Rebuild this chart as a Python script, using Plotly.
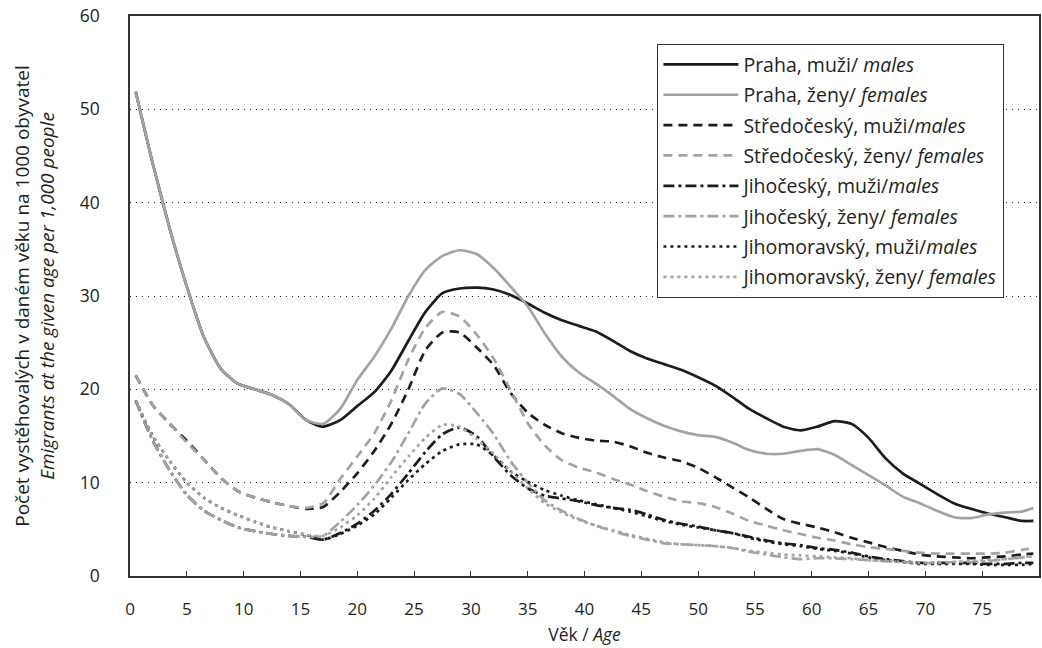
import plotly.graph_objects as go

ages = [0.5, 2, 3.5, 5, 6.5, 8, 9.5, 11, 12.5, 14, 15.5, 17, 18.5, 20, 21.5, 23, 24.5, 26,
        27.5, 29, 30.5, 32, 33.5, 35, 36.5, 38, 39.5, 41, 42.5, 44, 45.5, 47, 48.5, 50,
        51.5, 53, 54.5, 56, 57.5, 59, 60.5, 62, 63.5, 65, 66.5, 68, 69.5, 71, 72.5, 74,
        75.5, 77, 78.5, 79.5]

praha_m = [51.9, 44.2, 37.2, 31.0, 25.6, 22.2, 20.6, 20.0, 19.4, 18.4, 16.7, 16.0, 16.7, 18.2,
           19.7, 22.0, 25.2, 28.3, 30.3, 30.8, 30.9, 30.7, 30.1, 29.2, 28.2, 27.4, 26.8, 26.2,
           25.2, 24.1, 23.3, 22.7, 22.1, 21.3, 20.4, 19.2, 17.9, 16.9, 16.0, 15.6, 16.0, 16.6,
           16.3, 14.8, 12.6, 11.0, 9.9, 8.8, 7.8, 7.2, 6.7, 6.3, 5.9, 5.9]
praha_f = [51.9, 44.2, 37.2, 31.0, 25.6, 22.2, 20.6, 20.0, 19.4, 18.4, 16.7, 16.3, 17.9, 21.0,
           23.5, 26.5, 30.0, 32.8, 34.3, 34.9, 34.5, 33.0, 31.0, 28.9, 26.0, 23.5, 21.8, 20.6,
           19.3, 17.9, 16.9, 16.1, 15.5, 15.1, 14.9, 14.3, 13.5, 13.1, 13.1, 13.4, 13.6, 13.0,
           11.9, 10.8, 9.7, 8.5, 7.8, 7.0, 6.3, 6.2, 6.6, 6.8, 6.9, 7.3]
stred_m = [21.5, 18.3, 16.3, 14.5, 12.5, 10.5, 9.1, 8.4, 7.9, 7.5, 7.2, 7.4, 9.0, 11.0, 13.4,
           16.3, 20.0, 24.2, 26.1, 26.1, 24.5, 22.6, 19.6, 17.5, 16.2, 15.3, 14.8, 14.5, 14.4,
           13.9, 13.2, 12.7, 12.3, 11.6, 10.6, 9.5, 8.4, 7.2, 6.1, 5.6, 5.2, 4.7, 4.1, 3.6, 3.1,
           2.7, 2.3, 2.1, 2.0, 1.9, 2.0, 2.1, 2.3, 2.4]
stred_f = [21.5, 18.3, 16.3, 14.3, 12.5, 10.5, 9.1, 8.4, 7.9, 7.5, 7.3, 7.8, 10.4, 12.8, 15.3,
           18.8, 23.2, 26.6, 28.3, 27.8, 25.9, 23.3, 19.9, 16.4, 14.0, 12.4, 11.6, 11.1, 10.4,
           9.8, 9.1, 8.5, 8.0, 7.8, 7.4, 6.7, 5.9, 5.4, 4.9, 4.5, 4.1, 3.8, 3.4, 3.1, 2.9, 2.7,
           2.5, 2.4, 2.4, 2.4, 2.4, 2.5, 2.8, 3.0]
jihoc_m = [18.8, 14.5, 11.3, 8.7, 7.0, 6.0, 5.2, 4.8, 4.5, 4.3, 4.2, 3.9, 4.6, 5.6, 7.0, 8.8,
           11.0, 13.3, 15.2, 15.9, 15.0, 12.8, 10.8, 9.4, 8.6, 8.3, 8.0, 7.6, 7.3, 7.1, 6.6,
           6.0, 5.6, 5.3, 4.9, 4.6, 4.2, 3.8, 3.5, 3.3, 3.0, 2.8, 2.5, 2.1, 1.8, 1.6, 1.4, 1.4,
           1.4, 1.4, 1.3, 1.3, 1.4, 1.4]
jihoc_f = [18.8, 14.5, 11.3, 8.7, 7.0, 6.0, 5.2, 4.8, 4.5, 4.3, 4.2, 4.3, 5.8, 7.6, 9.7, 12.2,
           15.3, 18.5, 20.1, 19.5, 17.5, 15.2, 12.3, 10.0, 8.1, 7.0, 6.1, 5.4, 4.8, 4.3, 3.9,
           3.5, 3.4, 3.3, 3.2, 3.0, 2.6, 2.3, 2.0, 1.8, 1.9, 1.9, 1.8, 1.7, 1.6, 1.5, 1.4, 1.4,
           1.5, 1.5, 1.6, 1.8, 2.0, 2.2]
jihom_m = [18.8, 15.0, 12.3, 10.0, 8.4, 7.3, 6.5, 5.8, 5.2, 4.8, 4.4, 3.9, 4.5, 5.4, 6.6, 8.4,
           10.3, 12.0, 13.4, 14.1, 14.1, 12.9, 11.2, 10.1, 9.2, 8.6, 8.1, 7.7, 7.3, 6.9, 6.4,
           5.9, 5.5, 5.2, 4.9, 4.6, 4.1, 3.7, 3.4, 3.2, 2.9, 2.7, 2.4, 2.0, 1.7, 1.5, 1.3, 1.3,
           1.3, 1.3, 1.2, 1.2, 1.2, 1.3]
jihom_f = [18.8, 15.0, 12.3, 10.0, 8.4, 7.3, 6.5, 5.8, 5.2, 4.8, 4.4, 4.3, 5.2, 6.5, 8.3, 10.6,
           12.8, 14.8, 16.2, 16.0, 14.7, 13.1, 11.2, 9.4, 7.8, 6.8, 6.0, 5.4, 4.9, 4.4, 4.0,
           3.6, 3.4, 3.3, 3.2, 3.0, 2.7, 2.5, 2.3, 2.2, 2.1, 2.0, 1.9, 1.7, 1.6, 1.5, 1.4, 1.4,
           1.5, 1.6, 1.7, 1.8, 2.0, 2.1]

names = [
    "Praha, muži/ <i>males</i>",
    "Praha, ženy/ <i>females</i>",
    "Středočeský, muži/<i>males</i>",
    "Středočeský, ženy/ <i>females</i>",
    "Jihočeský, muži/<i>males</i>",
    "Jihočeský, ženy/ <i>females</i>",
    "Jihomoravský, muži/<i>males</i>",
    "Jihomoravský, ženy/ <i>females</i>",
]
series = [praha_m, praha_f, stred_m, stred_f, jihoc_m, jihoc_f, jihom_m, jihom_f]

BLACK = "#1c1c1c"
GRAY = "#a3a3a3"
colors = [BLACK, GRAY] * 4
dashes = ["solid", "solid", "9px,6px", "9px,6px", "11px,4px,3px,4px", "11px,4px,3px,4px",
          "3px,4px", "3px,4px"]

FONT = "Open Sans"
TXT = "#231f20"

fig = go.Figure()
for i, (nm, ys) in enumerate(zip(names, series)):
    fig.add_trace(go.Scatter(
        x=ages, y=ys, mode="lines", name=nm, legendgroup=f"g{i}",
        line=dict(color=colors[i], width=2.7, dash=dashes[i], shape="spline", smoothing=0.6),
    ))

fig.update_layout(
    width=1042, height=648,
    margin=dict(l=130, r=1, t=16, b=72),
    paper_bgcolor="white", plot_bgcolor="white",
    font=dict(family=FONT, size=17, color=TXT),
    showlegend=True,
    legend=dict(
        x=0.58, y=0.95, xanchor="left", yanchor="top",
        bordercolor="#333333", borderwidth=1.2, bgcolor="white",
        font=dict(family=FONT, size=19.5, color=TXT),
        tracegroupgap=2, itemwidth=75,
    ),
    xaxis=dict(
        range=[0, 80], tickmode="array", tickvals=list(range(0, 80, 5)),
        ticks="inside", ticklen=5, tickcolor="#333333",
        showline=True, linecolor="#333333", linewidth=1.5, mirror=True,
        showgrid=False, zeroline=False,
        tickfont=dict(family=FONT, size=17, color=TXT),
        ticklabelstandoff=17,
        title=dict(text="Věk / <i>Age</i>", font=dict(family=FONT, size=17.5, color=TXT), standoff=10),
    ),
    yaxis=dict(
        range=[0, 60], tickmode="array", tickvals=[0, 10, 20, 30, 40, 50, 60],
        ticks="", showline=True, linecolor="#333333", linewidth=1.5, mirror=True,
        showgrid=True, gridcolor="#222222", gridwidth=1, griddash="1px,5px",
        zeroline=False,
        tickfont=dict(family=FONT, size=17.5, color=TXT),
        ticklabelstandoff=25,
        title=dict(text="Počet vystěhovalých v daném věku na 1000 obyvatel<br><i>Emigrants at the given age per 1,000 people</i>",
                   font=dict(family=FONT, size=19, color=TXT), standoff=20),
    ),
)

fig.write_html("out.html")
